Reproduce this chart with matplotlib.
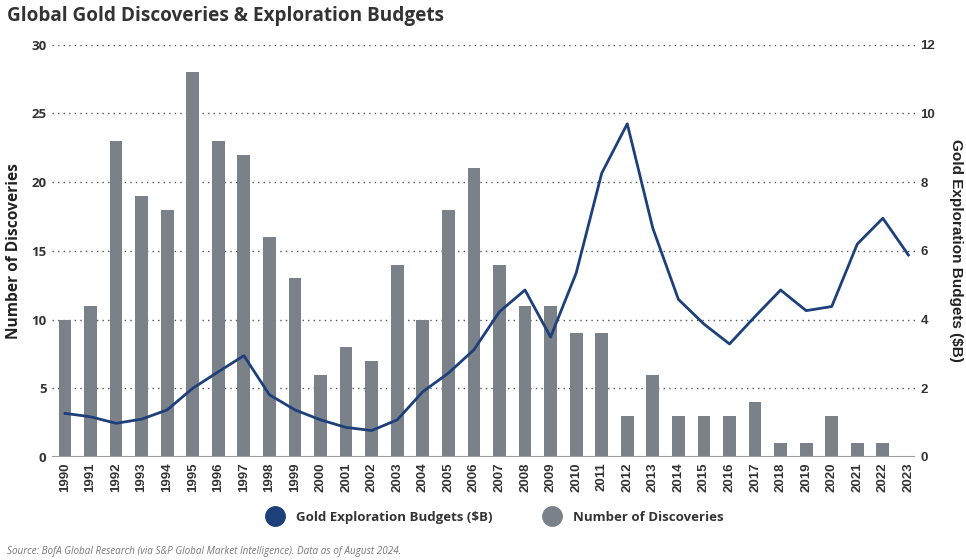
import matplotlib.pyplot as plt
import numpy as np
from matplotlib.lines import Line2D

years = list(range(1990, 2024))
discoveries = [10, 11, 23, 19, 18, 28, 23, 22, 16, 13, 6, 8, 7, 14, 10, 18, 21,
               14, 11, 11, 9, 9, 3, 6, 3, 3, 3, 4, 1, 1, 3, 1, 1, 0]
budgets = [1.27, 1.17, 0.98, 1.10, 1.37, 2.0, 2.48, 2.95, 1.81, 1.37, 1.08, 0.86,
           0.77, 1.08, 1.90, 2.44, 3.12, 4.23, 4.86, 3.49, 5.35, 8.26, 9.70, 6.66,
           4.59, 3.87, 3.29, 4.09, 4.86, 4.26, 4.38, 6.20, 6.95, 5.88]

bar_color = '#7b8189'
line_color = '#1d3f7a'
text_color = '#333333'
sans = 'Open Sans'

fig = plt.figure(figsize=(9.66, 5.6), dpi=100)
ax = fig.add_axes([0.054, 0.184, 0.893, 0.736])
ax2 = ax.twinx()

x = np.arange(len(years))
ax.bar(x, discoveries, width=0.5, color=bar_color, zorder=2)
ax2.plot(x, budgets, color=line_color, lw=2, solid_joinstyle='round', zorder=3)

ax.set_xlim(-0.5, 33.25)
ax.set_ylim(0, 30)
ax2.set_ylim(0, 12)
ax.set_yticks(range(0, 31, 5))
ax2.set_yticks(range(0, 13, 2))

# dotted grid lines, except at zero
for v in range(5, 31, 5):
    ax.axhline(v, color='#555555', lw=1, ls=(0, (1, 3)), zorder=1)

for a in (ax, ax2):
    for s in ('top', 'left', 'right', 'bottom'):
        a.spines[s].set_visible(False)
ax.axhline(0, color='#9a9ea3', lw=1.5, zorder=4)

ax.set_xticks(x)
ax.set_xticklabels([str(y) for y in years], rotation=90, fontsize=9.5,
                   fontweight='bold', family='Liberation Sans', color=text_color)
ax.tick_params(axis='both', length=0, pad=4)
ax2.tick_params(axis='y', length=0, pad=4)
for t in ax.get_yticklabels():
    t.set_family(sans)
    t.set_fontweight('bold')
    t.set_fontsize(9.5)
    t.set_color(text_color)
for t in ax2.get_yticklabels():
    t.set_family('Liberation Sans')
    t.set_fontweight('bold')
    t.set_fontsize(9.5)
    t.set_color(text_color)

ax.set_ylabel('Number of Discoveries', fontsize=11.2, fontweight='bold',
              family=sans, color='#222222', labelpad=7)
ax2.set_ylabel('Gold Exploration Budgets ($B)', fontsize=11, fontweight='bold',
               family='Liberation Sans', color='#222222', rotation=270, labelpad=20)

fig.text(0.007, 0.972, 'Global Gold Discoveries & Exploration Budgets', fontsize=13.7,
         fontweight='bold', family=sans, color=text_color, va='center')
fig.text(0.007, 0.015, 'Source: BofA Global Research (via S&P Global Market Intelligence). Data as of August 2024.',
         fontsize=7.1, style='italic', family=sans, color='#777777', va='center')

handles = [Line2D([], [], ls='none', marker='o', ms=14, color=line_color),
           Line2D([], [], ls='none', marker='o', ms=14, color=bar_color)]
fig.legend(handles, ['Gold Exploration Budgets ($B)', 'Number of Discoveries'],
           loc='center', bbox_to_anchor=(0.51, 0.076), ncol=2, frameon=False,
           prop={'family': sans, 'weight': 'bold', 'size': 9.5},
           columnspacing=3.5, handletextpad=0.6, labelcolor=text_color)

fig.savefig('out.png', dpi=100)
